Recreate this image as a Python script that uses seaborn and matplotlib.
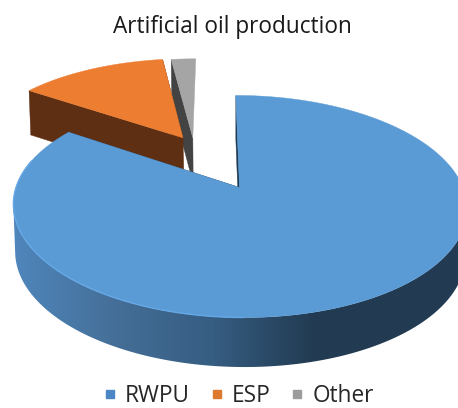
import numpy as np
import matplotlib
matplotlib.use("Agg")
import matplotlib.pyplot as plt
from matplotlib.lines import Line2D
from matplotlib.patches import Polygon
import seaborn as sns

categories = ["RWPU", "ESP", "Other"]
shares = [84.5, 13.3, 2.2]

top_colors = ["#5B9BD5", "#ED7D31", "#A5A5A5"]
cut_colors = ["#1F3B54", "#5E2F12", "#434343"]
legend_colors = ["#4A87C4", "#DD7A30", "#9C9C9C"]

sns.set_theme(style="white")
plt.rcParams["font.family"] = ["Open Sans", "DejaVu Sans"]

# Pull-out of each slice in disc units (sideways, towards the viewer)
pull_out = {"RWPU": (0.0, 0.0), "ESP": (-0.265, -0.50), "Other": (-0.217, -0.50)}

# Perspective camera for the tilted disc, in figure pixels
APEX_X, APEX_Y = 239.5, 187.5
SCALE_X, SCALE_Z = 223.5, 107.8
PERSPECTIVE = 0.171
SHEAR = 0.04


def project(x, z, lower=False):
    """Map disc coordinates to the page; lower=True gives the underside."""
    x, z = np.asarray(x, float), np.asarray(z, float)
    w = 1.0 / (1.0 - PERSPECTIVE * z)
    sx, sy = SCALE_X * x * w, SCALE_Z * z * w
    px = APEX_X + sx + SHEAR * sy
    py = APEX_Y + sy
    if lower:
        px = APEX_X + (px - APEX_X) * 0.992
        py = py + 47.0 + 2.5 * z
    return np.column_stack([px, py])


def rim(theta, off):
    rad = np.radians(theta)
    return np.sin(rad) + off[0], -np.cos(rad) + off[1]


# Left-to-right shading of the main slice's outer wall
rim_shades = np.array(sns.blend_palette(
    ["#4F86BC", "#456F98", "#365D82", "#223B52", "#223B52"], n_colors=256
))

fig = plt.figure(figsize=(4.58, 4.08), dpi=100)
ax = fig.add_axes([0, 0, 1, 1])

fractions = np.array(shares) / sum(shares)
starts = np.concatenate([[0.0], np.cumsum(fractions)[:-1]]) * 360.0
stops = np.cumsum(fractions) * 360.0

# Slices furthest from the viewer go down first
for i in [2, 1, 0]:
    name = categories[i]
    off = pull_out[name]
    thetas = np.linspace(starts[i], stops[i], max(24, int((stops[i] - starts[i]) * 3)))
    rx, rz = rim(thetas, off)
    base = i * -10

    # Flat cut faces; the small slice only shows the one turned to the left
    for end in ((0,) if name == "Other" else (0, -1)):
        quad = np.vstack([
            project([off[0], rx[end]], [off[1], rz[end]]),
            project([rx[end], off[0]], [rz[end], off[1]], lower=True),
        ])
        ax.add_patch(Polygon(quad, closed=True, fc=cut_colors[i], ec=cut_colors[i], lw=0.3, zorder=base + 1))

    up = project(rx, rz)

    # Curved outer wall of the main slice, limited to the side facing the viewer
    if name == "RWPU":
        front = (thetas >= 100) & (thetas <= 260)
        wx, wz = rx[front], rz[front]
        wall = Polygon(np.vstack([project(wx, wz), project(wx, wz, lower=True)[::-1]]),
                       closed=True, transform=ax.transData)
        ramp = rim_shades[np.newaxis, :, :]
        im = ax.imshow(ramp, extent=(13, 413, 400, 60), aspect="auto", interpolation="bilinear", zorder=base + 2)
        im.set_clip_path(wall)
        tail = ax.imshow(rim_shades[-1:][np.newaxis, :, :], extent=(413, 480, 400, 60), aspect="auto", zorder=base + 2)
        tail.set_clip_path(wall)

    # Upper surface
    outline = np.vstack([project([off[0]], [off[1]]), up])
    ax.add_patch(Polygon(outline, closed=True, fc=top_colors[i], ec=top_colors[i], lw=0.3, zorder=base + 3))

    # Light bevel along the lit part of the main slice's rim
    if name == "RWPU":
        mask = (thetas > 180) & (thetas < 285)
        ax.plot(up[mask, 0], up[mask, 1], color="#66A8E6", lw=1.0, zorder=4, solid_capstyle="round")

ax.set_xlim(0, 458)
ax.set_ylim(408, 0)
ax.axis("off")

ax.text(232.5, 27, "Artificial oil production", ha="center", va="center", fontsize=16.25, color="#1a1a1a")

handles = [
    Line2D([], [], ls="none", marker="s", ms=6.3, mfc=legend_colors[k], mec=legend_colors[k], label=categories[k])
    for k in range(len(categories))
]
ax.legend(
    handles=handles, loc="center", bbox_to_anchor=(0.5155, 0.029), ncol=3, frameon=False,
    fontsize=16.3, handletextpad=0.15, columnspacing=0.7, handlelength=1.0, labelcolor="#262626",
    borderpad=0, borderaxespad=0,
)

fig.savefig("out.png", dpi=100)
